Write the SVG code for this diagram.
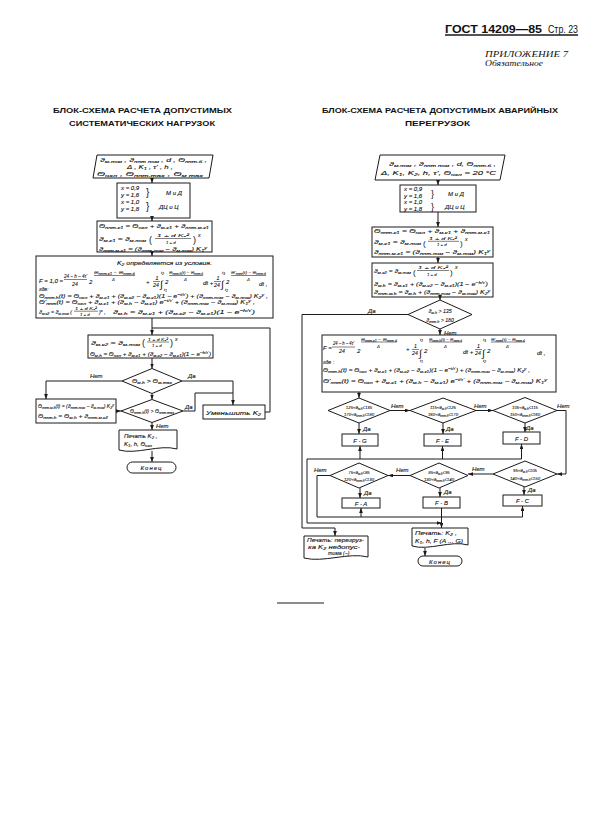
<svg xmlns="http://www.w3.org/2000/svg" width="606" height="827" viewBox="0 0 606 827">
<defs>
<style>
.ln{fill:none;stroke:#1a1a1a;stroke-width:1}
.bx{fill:none;stroke:#1a1a1a;stroke-width:1}
.fr{stroke:#1a1a1a;stroke-width:0.55}
text{font-family:"Liberation Sans","DejaVu Sans",sans-serif;fill:#111}
.t{font-style:italic;font-size:6px;stroke:#111;stroke-width:0.12px}
.f{font-style:italic;font-size:5.2px;stroke:#111;stroke-width:0.1px}
.e{font-style:italic;font-size:4.3px;stroke:#111;stroke-width:0.08px}
.g{font-style:normal;font-size:10px}
.sb{font-size:72%;baseline-shift:-1.1px}
.sp{font-size:72%;baseline-shift:2px}
.ti{font-weight:bold;font-size:7.5px}
</style>
<marker id="ar" viewBox="0 0 8 6" refX="8" refY="3" markerWidth="5" markerHeight="3.8" markerUnits="userSpaceOnUse" orient="auto"><path d="M0,0 L8,3 L0,6 z" fill="#1a1a1a"/></marker>
</defs>
<rect width="606" height="827" fill="#fff"/>

<g id="header">
<text x="445" y="32.5" style="font-weight:bold;font-size:11.5px" textLength="97" lengthAdjust="spacingAndGlyphs">ГОСТ 14209—85</text>
<text x="548" y="32.5" style="font-size:11px" textLength="30" lengthAdjust="spacingAndGlyphs">Стр. 23</text>
<line x1="445" y1="35" x2="578" y2="35" stroke="#1a1a1a" stroke-width="1.3"/>
<text x="485" y="57" style="font-family:'Liberation Serif',serif;font-style:italic;font-size:8.5px" textLength="83" lengthAdjust="spacingAndGlyphs">ПРИЛОЖЕНИЕ 7</text>
<text x="485" y="65.5" style="font-family:'Liberation Serif',serif;font-style:italic;font-size:8px" textLength="58" lengthAdjust="spacingAndGlyphs">Обязательное</text>
</g>

<g id="titles">
<text class="ti" x="53" y="113" textLength="179" lengthAdjust="spacingAndGlyphs">БЛОК-СХЕМА РАСЧЕТА ДОПУСТИМЫХ</text>
<text class="ti" x="69" y="126" textLength="146" lengthAdjust="spacingAndGlyphs">СИСТЕМАТИЧЕСКИХ НАГРУЗОК</text>
<text class="ti" x="322" y="113" textLength="236" lengthAdjust="spacingAndGlyphs">БЛОК-СХЕМА РАСЧЕТА ДОПУСТИМЫХ АВАРИЙНЫХ</text>
<text class="ti" x="405" y="126" textLength="65" lengthAdjust="spacingAndGlyphs">ПЕРЕГРУЗОК</text>
</g>

<!-- ============ LEFT CHART ============ -->
<g id="L-input">
<polygon class="bx" points="97,155 213,155 209,178 93,178"/>
<text class="t" x="100" y="162" textLength="107" lengthAdjust="spacingAndGlyphs">ϑ<tspan class="sb">м.ном</tspan> , ϑ<tspan class="sb">ннт ном</tspan> , d , Θ<tspan class="sb">ннт.б</tspan> ,</text>
<text class="t" x="127" y="169" textLength="46" lengthAdjust="spacingAndGlyphs">Δ , K<tspan class="sb">1</tspan> , τ' , h ,</text>
<text class="t" x="97" y="176" textLength="106" lengthAdjust="spacingAndGlyphs">Θ<tspan class="sb">охл</tspan> , Θ<tspan class="sb">ннт.max</tspan> ,      Θ<tspan class="sb">м max</tspan></text>
</g>

<g id="L-xy">
<rect class="bx" x="117" y="183" width="73" height="35"/>
<text class="t" x="121" y="190">x = 0,9</text>
<text class="t" x="121" y="197">y = 1,6</text>
<text class="t" x="121" y="204">x = 1,0</text>
<text class="t" x="121" y="211">y = 1,8</text>
<text class="g" x="146" y="196">}</text>
<text class="g" x="146" y="210">}</text>
<text class="t" x="166" y="195">М и Д</text>
<text class="t" x="159" y="209">ДЦ и Ц</text>
</g>

<g id="L-k1">
<rect class="bx" x="97" y="221" width="115" height="31"/>
<text class="t" x="99" y="228" textLength="110" lengthAdjust="spacingAndGlyphs">Θ<tspan class="sb">ннт.к1</tspan> = Θ<tspan class="sb">охл</tspan> + ϑ<tspan class="sb">м.к1</tspan> + ϑ<tspan class="sb">ннт.м.к1</tspan></text>
<text class="t" x="99" y="241" textLength="47" lengthAdjust="spacingAndGlyphs">ϑ<tspan class="sb">м.к1</tspan> = ϑ<tspan class="sb">м.ном</tspan></text>
<text class="g" x="149" y="243" style="font-size:9px">(</text>
<text class="e" x="157" y="237" textLength="32" lengthAdjust="spacingAndGlyphs">1 + d K₁²</text>
<line class="fr" x1="155" y1="238.5" x2="191" y2="238.5"/>
<text class="e" x="166" y="244">1 + d</text>
<text class="g" x="193" y="243" style="font-size:9px">)</text>
<text class="f" x="198" y="237">x</text>
<text class="t" x="99" y="250.5" textLength="108" lengthAdjust="spacingAndGlyphs">ϑ<tspan class="sb">ннт.м.к1</tspan> = (ϑ<tspan class="sb">ннт.ном</tspan> − ϑ<tspan class="sb">м.ном</tspan>) K<tspan class="sb">1</tspan><tspan class="sp">y</tspan></text>
</g>

<g id="L-k2cond">
<rect class="bx" x="36" y="256" width="237" height="62"/>
<text class="t" x="117" y="265" textLength="95" lengthAdjust="spacingAndGlyphs">K<tspan class="sb">2</tspan> определяется из условия.</text>
<text class="t" x="39" y="283" textLength="24" lengthAdjust="spacingAndGlyphs">F = 1,0 =</text>
<text class="f" x="64" y="278" textLength="23" lengthAdjust="spacingAndGlyphs">24 − h − 4τ'</text>
<line class="fr" x1="64" y1="279.5" x2="87" y2="279.5"/>
<text class="f" x="72" y="286">24</text>
<text class="t" x="89" y="284">2</text>
<text class="e" x="94" y="273.5" textLength="41" lengthAdjust="spacingAndGlyphs">Θ<tspan class="sb">ннт.к1</tspan> − Θ<tspan class="sb">ннт.б</tspan></text>
<line class="fr" x1="94" y1="275.5" x2="135" y2="275.5"/>
<text class="e" x="112" y="280.5">Δ</text>
<text class="t" x="146" y="284">+</text>
<text class="f" x="155.5" y="280">1</text>
<line class="fr" x1="153" y1="281.5" x2="160" y2="281.5"/>
<text class="f" x="153" y="287">24</text>
<text class="e" x="161" y="273.5">t<tspan class="sb">2</tspan></text>
<text class="g" x="160" y="287.5">∫</text>
<text class="e" x="164" y="291">t<tspan class="sb">1</tspan></text>
<text class="t" x="165" y="284">2</text>
<text class="e" x="169" y="273.5" textLength="34" lengthAdjust="spacingAndGlyphs">Θ<tspan class="sb">ннт.h</tspan>(t) − Θ<tspan class="sb">ннт.б</tspan></text>
<line class="fr" x1="169" y1="275.5" x2="203" y2="275.5"/>
<text class="e" x="184" y="280.5">Δ</text>
<text class="t" x="203" y="285">dt +</text>
<text class="f" x="216.5" y="280">1</text>
<line class="fr" x1="214" y1="281.5" x2="221" y2="281.5"/>
<text class="f" x="214" y="287">24</text>
<text class="e" x="222" y="273.5">t<tspan class="sb">3</tspan></text>
<text class="g" x="221" y="287.5">∫</text>
<text class="e" x="225" y="291">t<tspan class="sb">2</tspan></text>
<text class="t" x="226" y="284">2</text>
<text class="e" x="231" y="273.5" textLength="35" lengthAdjust="spacingAndGlyphs">Θ'<tspan class="sb">ннт</tspan>(t) − Θ<tspan class="sb">ннт.б</tspan></text>
<line class="fr" x1="231" y1="275.5" x2="266" y2="275.5"/>
<text class="e" x="247" y="280.5">Δ</text>
<text class="t" x="259" y="286">dt ,</text>
<text class="f" x="39" y="291">где:</text>
<text class="f" x="39" y="297.5" textLength="229" lengthAdjust="spacingAndGlyphs">Θ<tspan class="sb">ннт.h</tspan>(t) = Θ<tspan class="sb">охл</tspan> + ϑ<tspan class="sb">м.к1</tspan> + (ϑ<tspan class="sb">м.к2</tspan> − ϑ<tspan class="sb">м.к1</tspan>)(1 − e<tspan class="sp">−t/τ'</tspan>) + (ϑ<tspan class="sb">ннт.ном</tspan> − ϑ<tspan class="sb">м.ном</tspan>) K<tspan class="sb">2</tspan><tspan class="sp">y</tspan> ,</text>
<text class="f" x="39" y="304" textLength="216" lengthAdjust="spacingAndGlyphs">Θ'<tspan class="sb">ннт</tspan>(t) = Θ<tspan class="sb">охл</tspan> + ϑ<tspan class="sb">м.к1</tspan> + (ϑ<tspan class="sb">м.h</tspan> − ϑ<tspan class="sb">м.к1</tspan>) e<tspan class="sp">−t/τ'</tspan> + (ϑ<tspan class="sb">ннт.ном</tspan> − ϑ<tspan class="sb">м.ном</tspan>) K<tspan class="sb">1</tspan><tspan class="sp">y</tspan> ,</text>
<text class="f" x="39" y="313.5" textLength="33" lengthAdjust="spacingAndGlyphs">ϑ<tspan class="sb">м.к2</tspan> = ϑ<tspan class="sb">м.ном</tspan> (</text>
<text class="e" x="75" y="310" textLength="22" lengthAdjust="spacingAndGlyphs">1 + d K₂²</text>
<line class="fr" x1="74" y1="311.2" x2="98" y2="311.2"/>
<text class="e" x="80" y="315.8">1 + d</text>
<text class="f" x="99" y="313.5">)<tspan class="sp">x</tspan> ,</text>
<text class="f" x="113" y="313.5" textLength="142" lengthAdjust="spacingAndGlyphs">ϑ<tspan class="sb">м.h</tspan> = ϑ<tspan class="sb">м.к1</tspan> + (ϑ<tspan class="sb">м.к2</tspan> − ϑ<tspan class="sb">м.к1</tspan>)(1 − e<tspan class="sp">−h/τ'</tspan>)</text>
</g>

<g id="L-mk2">
<rect class="bx" x="88" y="335" width="125" height="23"/>
<text class="t" x="91" y="344.5" textLength="49" lengthAdjust="spacingAndGlyphs">ϑ<tspan class="sb">м.к2</tspan> = ϑ<tspan class="sb">м.ном</tspan></text>
<text class="g" x="142" y="346" style="font-size:9px">(</text>
<text class="e" x="148" y="340.8" textLength="20" lengthAdjust="spacingAndGlyphs">1 + d K₂²</text>
<line class="fr" x1="147" y1="342" x2="169" y2="342"/>
<text class="e" x="152" y="347">1 + d</text>
<text class="g" x="170" y="346" style="font-size:9px">)</text>
<text class="f" x="175" y="340.5">x</text>
<text class="t" x="90" y="355.5" textLength="121" lengthAdjust="spacingAndGlyphs">Θ<tspan class="sb">м.h</tspan> = Θ<tspan class="sb">охл</tspan> + ϑ<tspan class="sb">м.к1</tspan> + (ϑ<tspan class="sb">м.к2</tspan> − ϑ<tspan class="sb">м.к1</tspan>)(1 − e<tspan class="sp">−h/τ'</tspan>)</text>
</g>

<g id="L-dec1">
<polygon class="bx" points="152,368.5 182,381 152,393.5 122,381"/>
<text class="t" x="152" y="383" text-anchor="middle" textLength="40" lengthAdjust="spacingAndGlyphs">Θ<tspan class="sb">м.h</tspan> &gt; Θ<tspan class="sb">м.max</tspan></text>
</g>

<g id="L-dec2">
<polygon class="bx" points="152,399.5 183,411 152,422.5 121,411"/>
<text class="f" x="152" y="413" text-anchor="middle" textLength="44" lengthAdjust="spacingAndGlyphs">Θ<tspan class="sb">ннт.h</tspan>(t) &gt; Θ<tspan class="sb">ннт.max</tspan></text>
</g>

<g id="L-hs">
<rect class="bx" x="36" y="399" width="80" height="24"/>
<text class="f" x="38" y="408" textLength="76" lengthAdjust="spacingAndGlyphs">Θ<tspan class="sb">ннт.м.h</tspan>(t) = (ϑ<tspan class="sb">ннт.ном</tspan> − ϑ<tspan class="sb">м.ном</tspan>) K<tspan class="sb">2</tspan><tspan class="sp">y</tspan></text>
<text class="f" x="38" y="418" textLength="70" lengthAdjust="spacingAndGlyphs">Θ<tspan class="sb">ннт.h</tspan> = Θ<tspan class="sb">м.h</tspan> + ϑ<tspan class="sb">ннт.м.к2</tspan></text>
</g>

<g id="L-reduce">
<rect class="bx" x="203" y="405" width="62" height="14"/>
<text class="t" x="206" y="414.5" textLength="55" lengthAdjust="spacingAndGlyphs">Уменьшить K<tspan class="sb">2</tspan></text>
</g>

<g id="L-print">
<path class="bx" d="M119,430 H177 V449 C159.6,444 136.4,455 119,450 Z"/>
<text class="t" x="124" y="438">Печать K<tspan class="sb">2</tspan> ,</text>
<text class="t" x="124" y="446">K<tspan class="sb">1</tspan>, h, Θ<tspan class="sb">охл</tspan></text>
</g>

<g id="L-end">
<rect class="bx" x="127" y="462" width="49" height="11" rx="5.5"/>
<text class="t" x="151.5" y="470" text-anchor="middle" letter-spacing="1">Конец</text>
</g>

<!-- ============ RIGHT CHART ============ -->
<g id="R-input">
<polygon class="bx" points="380,155 505,155 500,180 375,180"/>
<text class="t" x="389" y="166" textLength="107" lengthAdjust="spacingAndGlyphs">ϑ<tspan class="sb">м.ном</tspan> , ϑ<tspan class="sb">ннт ном</tspan> , d, Θ<tspan class="sb">ннт.б</tspan> ,</text>
<text class="t" x="381" y="175" textLength="115" lengthAdjust="spacingAndGlyphs">Δ, K<tspan class="sb">1</tspan>, K<tspan class="sb">2</tspan>, h, τ', Θ<tspan class="sb">охл</tspan> = 20 °C</text>
</g>

<g id="R-xy">
<rect class="bx" x="400" y="185" width="76" height="27"/>
<text class="t" x="404" y="191">x = 0,9</text>
<text class="t" x="404" y="197.5">y = 1,6</text>
<text class="t" x="404" y="204">x = 1,0</text>
<text class="t" x="404" y="210.5">y = 1,8</text>
<text class="g" x="431" y="197" style="font-size:9px">}</text>
<text class="g" x="431" y="210" style="font-size:9px">}</text>
<text class="t" x="448" y="196">М и Д</text>
<text class="t" x="445" y="209">ДЦ и Ц</text>
</g>

<g id="R-k1">
<rect class="bx" x="372" y="227" width="121" height="30"/>
<text class="t" x="374" y="233" textLength="116" lengthAdjust="spacingAndGlyphs">Θ<tspan class="sb">ннт.к1</tspan> = Θ<tspan class="sb">охл</tspan> + ϑ<tspan class="sb">м.к1</tspan> + ϑ<tspan class="sb">ннт.м.к1</tspan></text>
<text class="t" x="374" y="244" textLength="47" lengthAdjust="spacingAndGlyphs">ϑ<tspan class="sb">м.к1</tspan> = ϑ<tspan class="sb">м.ном</tspan></text>
<text class="g" x="423" y="245.5" style="font-size:8px">(</text>
<text class="e" x="429" y="240" textLength="28" lengthAdjust="spacingAndGlyphs">1 + d K₁²</text>
<line class="fr" x1="428" y1="241.3" x2="459" y2="241.3"/>
<text class="e" x="437" y="246">1 + d</text>
<text class="g" x="460" y="245.5" style="font-size:8px">)</text>
<text class="f" x="465" y="240.5">x</text>
<text class="t" x="374" y="253.5" textLength="116" lengthAdjust="spacingAndGlyphs">ϑ<tspan class="sb">ннт.м.к1</tspan> = (ϑ<tspan class="sb">ннт.ном</tspan> − ϑ<tspan class="sb">м.ном</tspan>) K<tspan class="sb">1</tspan><tspan class="sp">y</tspan></text>
</g>

<g id="R-k2">
<rect class="bx" x="372" y="263" width="121" height="34"/>
<text class="t" x="374" y="273" textLength="37" lengthAdjust="spacingAndGlyphs">ϑ<tspan class="sb">м.к2</tspan> = ϑ<tspan class="sb">м.ном</tspan></text>
<text class="g" x="413" y="274.5" style="font-size:8px">(</text>
<text class="e" x="418" y="269" textLength="30" lengthAdjust="spacingAndGlyphs">1 + d K₂²</text>
<line class="fr" x1="417" y1="270.5" x2="449" y2="270.5"/>
<text class="e" x="427" y="276">1 + d</text>
<text class="g" x="450" y="274.5" style="font-size:8px">)</text>
<text class="f" x="455" y="268.5">x</text>
<text class="t" x="374" y="285.5" textLength="114" lengthAdjust="spacingAndGlyphs">ϑ<tspan class="sb">м.h</tspan> = ϑ<tspan class="sb">м.к1</tspan> + (ϑ<tspan class="sb">м.к2</tspan> − ϑ<tspan class="sb">м.к1</tspan>)(1 − e<tspan class="sp">−h/τ'</tspan>)</text>
<text class="t" x="374" y="293.5" textLength="116" lengthAdjust="spacingAndGlyphs">ϑ<tspan class="sb">ннт.м.h</tspan> = ϑ<tspan class="sb">м.h</tspan> + (ϑ<tspan class="sb">ннт.ном</tspan> − ϑ<tspan class="sb">м.ном</tspan>) K<tspan class="sb">2</tspan><tspan class="sp">y</tspan></text>
</g>

<g id="R-dec0">
<polygon class="bx" points="440,300 472,314.5 440,329 408,314.5"/>
<text class="f" x="440" y="313" text-anchor="middle">ϑ<tspan class="sb">м.h</tspan> &gt; 135</text>
<text class="f" x="440" y="321.5" text-anchor="middle">ϑ<tspan class="sb">ннт.h</tspan> &gt; 180</text>
</g>

<g id="R-F">
<rect class="bx" x="322" y="335" width="234" height="57"/>
<text class="t" x="323" y="350">F =</text>
<text class="f" x="333" y="345" textLength="21" lengthAdjust="spacingAndGlyphs">24 − h − 4τ'</text>
<line class="fr" x1="332" y1="347" x2="355" y2="347"/>
<text class="f" x="339" y="353">24</text>
<text class="t" x="357" y="353">2</text>
<text class="e" x="361" y="340.5" textLength="36" lengthAdjust="spacingAndGlyphs">Θ<tspan class="sb">ннт.к1</tspan> − Θ<tspan class="sb">ннт.б</tspan></text>
<line class="fr" x1="361" y1="342" x2="397" y2="342"/>
<text class="e" x="377" y="347.5">Δ</text>
<text class="t" x="406" y="351">+</text>
<text class="f" x="414" y="348">1</text>
<line class="fr" x1="412" y1="349.5" x2="419" y2="349.5"/>
<text class="f" x="412" y="355">24</text>
<text class="e" x="420" y="341">t<tspan class="sb">2</tspan></text>
<text class="g" x="419" y="357">∫</text>
<text class="e" x="420" y="362">t<tspan class="sb">1</tspan></text>
<text class="t" x="424" y="353">2</text>
<text class="e" x="429" y="340.5" textLength="33" lengthAdjust="spacingAndGlyphs">Θ<tspan class="sb">ннт.h</tspan>(t) − Θ<tspan class="sb">ннт.б</tspan></text>
<line class="fr" x1="429" y1="342" x2="462" y2="342"/>
<text class="e" x="444" y="347.5">Δ</text>
<text class="t" x="463" y="354">dt +</text>
<text class="f" x="477" y="348">1</text>
<line class="fr" x1="475" y1="349.5" x2="482" y2="349.5"/>
<text class="f" x="475" y="355">24</text>
<text class="e" x="483" y="341">t<tspan class="sb">3</tspan></text>
<text class="g" x="482" y="357">∫</text>
<text class="e" x="483" y="362">t<tspan class="sb">2</tspan></text>
<text class="t" x="487" y="353">2</text>
<text class="e" x="491" y="340.5" textLength="34" lengthAdjust="spacingAndGlyphs">Θ'<tspan class="sb">ннт</tspan>(t) − Θ<tspan class="sb">ннт.б</tspan></text>
<line class="fr" x1="491" y1="342" x2="525" y2="342"/>
<text class="e" x="506" y="347.5">Δ</text>
<text class="t" x="537" y="355">dt ,</text>
<text class="f" x="323" y="364">где :</text>
<text class="f" x="323" y="372" textLength="207" lengthAdjust="spacingAndGlyphs">Θ<tspan class="sb">ннт.h</tspan>(t) = Θ<tspan class="sb">охл</tspan> + ϑ<tspan class="sb">м.к1</tspan> + (ϑ<tspan class="sb">м.к2</tspan> − ϑ<tspan class="sb">м.к1</tspan>)(1 − e<tspan class="sp">−t/τ'</tspan>) + (ϑ<tspan class="sb">ннт.ном</tspan> − ϑ<tspan class="sb">м.ном</tspan>) K<tspan class="sb">2</tspan><tspan class="sp">y</tspan> ,</text>
<text class="f" x="323" y="383" textLength="224" lengthAdjust="spacingAndGlyphs">Θ'<tspan class="sb">ннт</tspan>(t) = Θ<tspan class="sb">охл</tspan> + ϑ<tspan class="sb">м.к1</tspan> + (ϑ<tspan class="sb">м.h</tspan> − ϑ<tspan class="sb">м.к1</tspan>) e<tspan class="sp">−t/τ'</tspan> + (ϑ<tspan class="sb">ннт.ном</tspan> − ϑ<tspan class="sb">м.ном</tspan>) K<tspan class="sb">1</tspan><tspan class="sp">y</tspan></text>
</g>

<g id="R-D1">
<polygon class="bx" points="359,398 390,410.5 359,423 328,410.5"/>
<text class="e" x="359" y="408.5" text-anchor="middle">125&lt;ϑ<tspan class="sb">м.h</tspan>≤135</text>
<text class="e" x="359" y="416" text-anchor="middle">170&lt;ϑ<tspan class="sb">ннт.h</tspan>≤180</text>
</g>
<g id="R-D2">
<polygon class="bx" points="443,398 476,410.5 443,423 410,410.5"/>
<text class="e" x="443" y="408.5" text-anchor="middle">115&lt;ϑ<tspan class="sb">м.h</tspan>≤125</text>
<text class="e" x="443" y="416" text-anchor="middle">160&lt;ϑ<tspan class="sb">ннт.h</tspan>≤170</text>
</g>
<g id="R-D3">
<polygon class="bx" points="525,397.5 557,410.5 525,423 493,410.5"/>
<text class="e" x="525" y="408.5" text-anchor="middle">105&lt;ϑ<tspan class="sb">м.h</tspan>≤115</text>
<text class="e" x="525" y="416" text-anchor="middle">150&lt;ϑ<tspan class="sb">ннт.h</tspan>≤160</text>
</g>
<g id="R-FG"><rect class="bx" x="342" y="434" width="36" height="12"/><text class="t" x="360" y="442.5" text-anchor="middle">F - G</text></g>
<g id="R-FE"><rect class="bx" x="424" y="434" width="37" height="12"/><text class="t" x="442.5" y="442.5" text-anchor="middle">F - E</text></g>
<g id="R-FD"><rect class="bx" x="503" y="432" width="37" height="12"/><text class="t" x="521.5" y="440.5" text-anchor="middle">F - D</text></g>

<g id="R-D4">
<polygon class="bx" points="359,463 388,475.5 359,488 330,475.5"/>
<text class="e" x="359" y="473.5" text-anchor="middle">75&lt;ϑ<tspan class="sb">м.h</tspan>≤85</text>
<text class="e" x="359" y="481" text-anchor="middle">120&lt;ϑ<tspan class="sb">ннт.h</tspan>≤130</text>
</g>
<g id="R-D5">
<polygon class="bx" points="439,463 468,475.5 439,488 410,475.5"/>
<text class="e" x="439" y="473.5" text-anchor="middle">85&lt;ϑ<tspan class="sb">м.h</tspan>≤95</text>
<text class="e" x="439" y="481" text-anchor="middle">130&lt;ϑ<tspan class="sb">ннт.h</tspan>≤140</text>
</g>
<g id="R-D6">
<polygon class="bx" points="525,461 557,474 525,487 493,474"/>
<text class="e" x="525" y="472" text-anchor="middle">95&lt;ϑ<tspan class="sb">м.h</tspan>≤105</text>
<text class="e" x="525" y="479.5" text-anchor="middle">140&lt;ϑ<tspan class="sb">ннт.h</tspan>≤150</text>
</g>
<g id="R-FA"><rect class="bx" x="342" y="498" width="38" height="10"/><text class="t" x="361" y="505.5" text-anchor="middle">F - A</text></g>
<g id="R-FB"><rect class="bx" x="423" y="497" width="37" height="11"/><text class="t" x="441.5" y="505" text-anchor="middle">F - B</text></g>
<g id="R-FC"><rect class="bx" x="503" y="495" width="39" height="11"/><text class="t" x="522.5" y="503" text-anchor="middle">F - C</text></g>

<g id="R-bad">
<path class="bx" d="M304,536 H368 V557 C348.8,552 323.2,563 304,558 Z"/>
<text class="f" x="307" y="542" textLength="57" lengthAdjust="spacingAndGlyphs">Печать: перегруз-</text>
<text class="f" x="308" y="548.5" textLength="52" lengthAdjust="spacingAndGlyphs">ка K<tspan class="sb">2</tspan> недопус-</text>
<text class="f" x="328" y="555">тима (−)</text>
</g>

<g id="R-print">
<path class="bx" d="M412,528 H468 V545 C451.2,540 428.8,551 412,546 Z"/>
<text class="f" x="415" y="535" textLength="42" lengthAdjust="spacingAndGlyphs">Печать: K<tspan class="sb">2</tspan> ,</text>
<text class="f" x="415" y="542.5" textLength="48" lengthAdjust="spacingAndGlyphs">K<tspan class="sb">1</tspan>, h, F (A ... G)</text>
</g>

<g id="R-end">
<rect class="bx" x="418" y="556" width="44" height="10" rx="5"/>
<text class="t" x="440" y="563.5" text-anchor="middle" letter-spacing="1">Конец</text>
</g>

<g id="labels">
<text class="t" x="90" y="378">Нет</text>
<text class="t" x="188" y="378">Да</text>
<text class="t" x="185" y="409">Да</text>
<text class="t" x="156" y="428">Нет</text>
<text class="t" x="368" y="312.5">Да</text>
<text class="t" x="444" y="334.5">Нет</text>
<text class="t" x="391" y="408">Нет</text>
<text class="t" x="474" y="408">Нет</text>
<text class="t" x="557" y="408">Нет</text>
<text class="t" x="363" y="431">Да</text>
<text class="t" x="446" y="431">Да</text>
<text class="t" x="526" y="429.5">Да</text>
<text class="t" x="472" y="471">Нет</text>
<text class="t" x="396" y="472">Нет</text>
<text class="t" x="314" y="472">Нет</text>
<text class="t" x="364" y="495">Да</text>
<text class="t" x="444" y="494">Да</text>
<text class="t" x="528" y="492">Да</text>
</g>

<g id="connectors">
<path class="ln" marker-end="url(#ar)" d="M152,178 V183"/>
<path class="ln" marker-end="url(#ar)" d="M152,218 V221"/>
<path class="ln" marker-end="url(#ar)" d="M152,252 V256"/>
<path class="ln" marker-end="url(#ar)" d="M152,318 V335"/>
<path class="ln" d="M265,412 H270 V328 H152"/>
<path class="ln" marker-end="url(#ar)" d="M152,358 V368.5"/>
<path class="ln" marker-end="url(#ar)" d="M122,381 H46 V399"/>
<path class="ln" marker-end="url(#ar)" d="M182,381 H233 V405"/>
<path class="ln" marker-end="url(#ar)" d="M152,393.5 V399.5"/>
<path class="ln" marker-end="url(#ar)" d="M116,411 H121"/>
<path class="ln" d="M183,411 H195 V393 H233"/>
<path class="ln" marker-end="url(#ar)" d="M152,422.5 V430"/>
<path class="ln" marker-end="url(#ar)" d="M152,451 V462"/>

<path class="ln" marker-end="url(#ar)" d="M438,180 V185"/>
<path class="ln" marker-end="url(#ar)" d="M438,212 V227"/>
<path class="ln" marker-end="url(#ar)" d="M438,257 V263"/>
<path class="ln" marker-end="url(#ar)" d="M440,297 V300"/>
<path class="ln" marker-end="url(#ar)" d="M408,314.5 H302 V528 H335 V536"/>
<path class="ln" marker-end="url(#ar)" d="M440,329 V335"/>
<path class="ln" marker-end="url(#ar)" d="M359,392 V398"/>
<path class="ln" marker-end="url(#ar)" d="M390,410.5 H410"/>
<path class="ln" marker-end="url(#ar)" d="M476,410.5 H493"/>
<path class="ln" marker-end="url(#ar)" d="M557,410.5 H566 V474 H557"/>
<path class="ln" marker-end="url(#ar)" d="M359,423 V434"/>
<path class="ln" marker-end="url(#ar)" d="M443,423 V434"/>
<path class="ln" marker-end="url(#ar)" d="M525,423 V432"/>
<path class="ln" marker-end="url(#ar)" d="M360,459 V446"/>
<path class="ln" marker-end="url(#ar)" d="M442.5,459 V446"/>
<path class="ln" marker-end="url(#ar)" d="M521.5,459 V444"/>
<path class="ln" marker-end="url(#ar)" d="M521.5,459 H307 V523 H441.5"/>
<path class="ln" marker-end="url(#ar)" d="M493,474 H468"/>
<path class="ln" marker-end="url(#ar)" d="M410,475.5 H388"/>
<path class="ln" d="M330,475.5 H317 V517 H522.5"/>
<path class="ln" marker-end="url(#ar)" d="M360,488 V498"/>
<path class="ln" marker-end="url(#ar)" d="M440,488 V497"/>
<path class="ln" marker-end="url(#ar)" d="M524,487 V495"/>
<path class="ln" marker-end="url(#ar)" d="M361,517 V508"/>
<path class="ln" marker-end="url(#ar)" d="M522.5,517 V506"/>
<path class="ln" marker-end="url(#ar)" d="M441.5,508 V528"/>
<path class="ln" marker-end="url(#ar)" d="M425,548 V556"/>
</g>

<line x1="277" y1="603" x2="324" y2="603" stroke="#1a1a1a" stroke-width="1.2"/>
</svg>
